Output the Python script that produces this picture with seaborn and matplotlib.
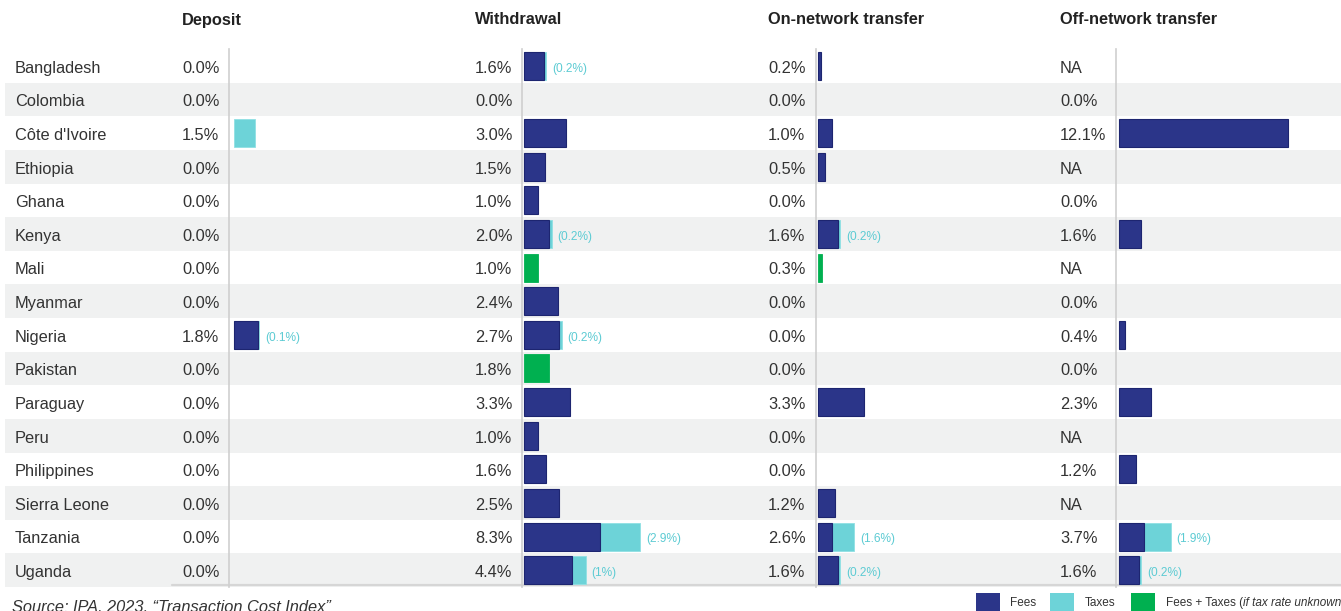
import matplotlib
matplotlib.use("Agg")
import matplotlib.pyplot as plt
import seaborn as sns
import numpy as np
import pandas as pd
from matplotlib.patches import Rectangle

# ---------------- data ----------------
countries = ["Bangladesh", "Colombia", "Côte d'Ivoire", "Ethiopia", "Ghana", "Kenya",
             "Mali", "Myanmar", "Nigeria", "Pakistan", "Paraguay", "Peru",
             "Philippines", "Sierra Leone", "Tanzania", "Uganda"]

panel_titles = ["Deposit", "Withdrawal", "On-network transfer", "Off-network transfer"]

NA = np.nan
# total cost (fees + taxes), % of transaction
deposit_total = [0.0, 0.0, 1.5, 0.0, 0.0, 0.0, 0.0, 0.0, 1.8, 0.0, 0.0, 0.0, 0.0, 0.0, 0.0, 0.0]
withdrawal_total = [1.6, 0.0, 3.0, 1.5, 1.0, 2.0, 1.0, 2.4, 2.7, 1.8, 3.3, 1.0, 1.6, 2.5, 8.3, 4.4]
on_network_total = [0.2, 0.0, 1.0, 0.5, 0.0, 1.6, 0.3, 0.0, 0.0, 0.0, 3.3, 0.0, 0.0, 1.2, 2.6, 1.6]
off_network_total = [NA, 0.0, 12.1, NA, 0.0, 1.6, NA, 0.0, 0.4, 0.0, 2.3, NA, 1.2, NA, 3.7, 1.6]

# tax component
deposit_tax = [0, 0, 1.5, 0, 0, 0, 0, 0, 0.1, 0, 0, 0, 0, 0, 0, 0]
withdrawal_tax = [0.2, 0, 0, 0, 0, 0.2, 0, 0, 0.2, 0, 0, 0, 0, 0, 2.9, 1.0]
on_network_tax = [0, 0, 0, 0, 0, 0.2, 0, 0, 0, 0, 0, 0, 0, 0, 1.6, 0.2]
off_network_tax = [0, 0, 0, 0, 0, 0, 0, 0, 0, 0, 0, 0, 0, 0, 1.9, 0.2]

# fees + taxes combined (tax rate unknown)
deposit_combined = [0] * 16
withdrawal_combined = [0, 0, 0, 0, 0, 0, 1.0, 0, 0, 1.8, 0, 0, 0, 0, 0, 0]
on_network_combined = [0, 0, 0, 0, 0, 0, 0.3, 0, 0, 0, 0, 0, 0, 0, 0, 0]
off_network_combined = [0] * 16

# tax labels shown next to the bars
deposit_tax_label = ["", "", "", "", "", "", "", "", "(0.1%)", "", "", "", "", "", "", ""]
withdrawal_tax_label = ["(0.2%)", "", "", "", "", "(0.2%)", "", "", "(0.2%)", "", "", "", "", "", "(2.9%)", "(1%)"]
on_network_tax_label = ["", "", "", "", "", "(0.2%)", "", "", "", "", "", "", "", "", "(1.6%)", "(0.2%)"]
off_network_tax_label = [""] * 14 + ["(1.9%)", "(0.2%)"]

totals = [deposit_total, withdrawal_total, on_network_total, off_network_total]
taxes = [deposit_tax, withdrawal_tax, on_network_tax, off_network_tax]
combined = [deposit_combined, withdrawal_combined, on_network_combined, off_network_combined]
tax_labels = [deposit_tax_label, withdrawal_tax_label, on_network_tax_label, off_network_tax_label]

legend_labels = ["Fees", "Taxes", "Fees + Taxes ("]

# ---------------- style ----------------
sns.set_theme(style="white")
plt.rcParams["font.family"] = ["Liberation Sans", "DejaVu Sans"]

FEES = "#2B3589"
FEES_EDGE = "#1D2570"
TAX = "#6DD3D8"
GREEN = "#00B050"
BAND = "#F0F1F1"
TXT = "#333333"
TAXTXT = "#5CCBD3"
LINE = "#CFCFCF"

W, H = 1341, 611
fig = plt.figure(figsize=(W / 100, H / 100), dpi=100)
fig.patch.set_facecolor("white")

top_px, bot_px = 49, 587
n = len(countries)


def fx(px):
    return px / W


def fy(py):
    return 1 - py / H


# background axes (bands + text)
bg = fig.add_axes([0, fy(bot_px), 1, (bot_px - top_px) / H])
bg.set_xlim(0, W)
bg.set_ylim(n - 0.5, -0.5)
bg.axis("off")
for i in range(n):
    if i % 2 == 1:
        bg.axhspan(i - 0.5, i + 0.5, xmin=5 / W, color=BAND, lw=0, zorder=0)
bg.plot([172, W], [n - 0.5 - 0.06, n - 0.5 - 0.06], color="#D6D6D6", lw=1.6, zorder=1, clip_on=False)

FS = 11.8
DY = 0.07
for i, c in enumerate(countries):
    bg.text(15, i + DY, c, ha="left", va="center", fontsize=FS, color=TXT)

header_x = [182, 475, 768, 1060]
panel_left = [229, 522, 816, 1116]
panel_right = [470, 764, 1058, 1341]
bar_gap_px = [5, 2, 2, 3]
PXPP = 14.0  # pixels per percentage point

for k in range(4):
    fig.text(fx(header_x[k]), fy(20), panel_titles[k], ha="left", va="center",
             fontsize=FS, fontweight="bold", color="#222222")
    tot = np.array(totals[k], dtype=float)
    tx = np.array(taxes[k], dtype=float)
    cb = np.array(combined[k], dtype=float)
    for i in range(n):
        s = "NA" if np.isnan(tot[i]) else f"{tot[i]:.1f}%"
        bg.text(header_x[k], i + DY, s, ha="left", va="center", fontsize=FS, color=TXT)

    fees = np.where(np.isnan(tot), 0, tot - tx - cb)
    fees_tax = fees + tx
    df = pd.DataFrame({
        "country": countries,
        "fees_tax": np.where(tx > 0, fees_tax, np.nan),
        "fees": np.where(fees > 0.001, fees, np.nan),
        "combined": np.where(cb > 0, cb, np.nan),
    })

    ax = fig.add_axes([fx(panel_left[k]), fy(bot_px),
                       (panel_right[k] - panel_left[k]) / W, (bot_px - top_px) / H])
    ax.patch.set_alpha(0)
    common = dict(y="country", data=df, order=countries, orient="h", ax=ax,
                  errorbar=None, width=0.83, saturation=1)
    if df["fees_tax"].notna().any():
        sns.barplot(x="fees_tax", color=TAX, edgecolor="#8FE0E3", linewidth=0.6, **common)
    if df["fees"].notna().any():
        sns.barplot(x="fees", color=FEES, edgecolor=FEES_EDGE, linewidth=0.8, **common)
    if df["combined"].notna().any():
        sns.barplot(x="combined", color=GREEN, edgecolor=GREEN, linewidth=0.6, **common)

    for i in range(n):
        if tax_labels[k][i]:
            ax.text(fees_tax[i] + 0.4, i + 0.08, tax_labels[k][i], ha="left", va="center",
                    fontsize=8.6, color=TAXTXT)

    x0 = -bar_gap_px[k] / PXPP
    ax.set_xlim(x0, (panel_right[k] - panel_left[k]) / PXPP + x0)
    ax.set_ylim(n - 0.5, -0.5)
    ax.set_xlabel("")
    ax.set_ylabel("")
    ax.set_xticks([])
    ax.set_yticks([])
    for sp in ["top", "right", "bottom"]:
        ax.spines[sp].set_visible(False)
    ax.spines["left"].set_color(LINE)
    ax.spines["left"].set_linewidth(1.2)

# source
fig.text(fx(12), fy(607), "Source: IPA, 2023, \u201cTransaction Cost Index\u201d", ha="left",
         va="center", fontsize=FS, style="italic", color=TXT)

# legend
leg_colors = [FEES, TAX, GREEN]
leg_rect_x = [976, 1050, 1131]
leg_text_x = [1010, 1085, 1166]
for c, rx, txp, lab in zip(leg_colors, leg_rect_x, leg_text_x, legend_labels):
    fig.patches.append(Rectangle((fx(rx), fy(614)), 24 / W, 21 / H, transform=fig.transFigure,
                                 facecolor=c, edgecolor="none", figure=fig))
    t = fig.text(fx(txp), fy(603), lab, ha="left", va="center", fontsize=8.5, color=TXT)
last = t
t2 = bg.annotate("if tax rate unknown", xy=(1, 0), xycoords=last, ha="left", va="bottom",
                 fontsize=8.5, style="italic", color=TXT, annotation_clip=False)
bg.annotate(")", xy=(1, 0), xycoords=t2, ha="left", va="bottom",
            fontsize=8.5, color=TXT, annotation_clip=False)

fig.savefig("out.png", dpi=100, facecolor="white")
